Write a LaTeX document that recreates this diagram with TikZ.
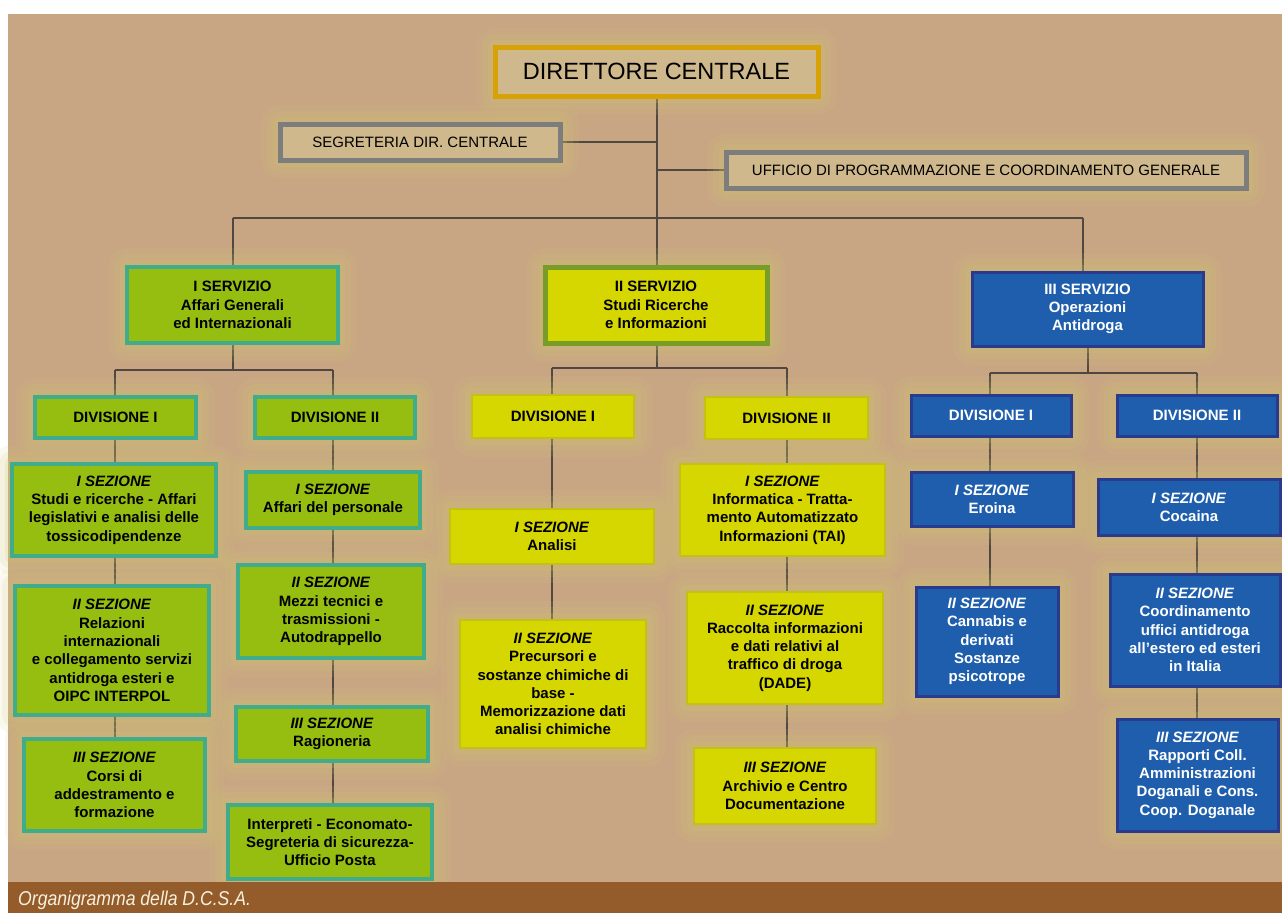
\documentclass[tikz,border=0pt]{standalone}
\usepackage{fontspec}
\setmainfont{Liberation Sans}
\usetikzlibrary{calc}
\definecolor{bgc}{RGB}{200,166,132}
\definecolor{glowc}{RGB}{208,200,110}
\definecolor{wirec}{RGB}{80,72,64}
\definecolor{gfill}{RGB}{150,190,16}
\definecolor{gborder}{RGB}{64,172,140}
\definecolor{yfill}{RGB}{214,214,0}
\definecolor{yborder}{RGB}{196,192,20}
\definecolor{oborder}{RGB}{120,156,40}
\definecolor{bfill}{RGB}{30,94,172}
\definecolor{bborder}{RGB}{42,58,140}
\definecolor{grayb}{RGB}{125,125,125}
\definecolor{tanfill}{RGB}{206,184,140}
\definecolor{goldb}{RGB}{214,162,6}
\definecolor{brownc}{RGB}{148,92,42}
\definecolor{captc}{RGB}{248,240,222}
\pgfdeclarelayer{back}
\pgfdeclarelayer{wires}
\pgfsetlayers{back,wires,main}
\tikzset{
  glow/.style={preaction={draw=glowc, line width=38pt, opacity=.10, line join=round},
               preaction={draw=glowc, line width=26pt, opacity=.13, line join=round},
               preaction={draw=glowc, line width=14pt, opacity=.18, line join=round}},
  base/.style={rectangle, align=center, inner sep=2pt, glow,
               font=\bfseries\fontsize{15}{18.3}\selectfont},
  gbox/.style={base, fill=gfill, draw=gborder, line width=4pt},
  ybox/.style={base, fill=yfill, draw=yborder, line width=2.5pt},
  ysrv/.style={base, fill=yfill, draw=oborder, line width=5pt},
  bbox/.style={base, fill=bfill, draw=bborder, line width=3pt, text=white},
  topbox/.style={rectangle, align=center, glow, fill=tanfill, draw=grayb, line width=5pt,
                 font=\fontsize{15}{18}\selectfont},
  dirbox/.style={rectangle, align=center, glow, fill=tanfill, draw=goldb, line width=5pt,
                 font=\fontsize{23.5}{27}\selectfont},
  wire/.style={draw=wirec, line width=1.2pt}
}
\begin{document}
\begin{tikzpicture}[x=1pt,y=-1pt]
\useasboundingbox (0,0) rectangle (1282,913);
\begin{pgfonlayer}{back}
\fill[white] (0,0) rectangle (1282,913);
\fill[bgc] (8,14) rectangle (1282,882);
\end{pgfonlayer}

% top level
\node[dirbox, minimum width=323pt, minimum height=49pt] (dir) at (656.5,71.5) {DIRETTORE CENTRALE};
\node[topbox, minimum width=280pt, minimum height=36pt] (seg) at (420,142) {SEGRETERIA DIR. CENTRALE};
\node[topbox, minimum width=520pt, minimum height=36pt] (uff) at (986,170) {UFFICIO DI PROGRAMMAZIONE E COORDINAMENTO GENERALE};

% servizi
\node[gbox, minimum width=211pt, minimum height=76pt] (s1) at (232.5,305) {I SERVIZIO\\Affari Generali\\ed Internazionali};
\node[ysrv, minimum width=222pt, minimum height=76pt] (s2) at (656,305) {II SERVIZIO\\Studi Ricerche\\e Informazioni};
\node[bbox, minimum width=231pt, minimum height=74pt] (s3) at (1087.5,309) {III SERVIZIO\\Operazioni\\Antidroga};

% I servizio
\node[gbox, minimum width=161pt, minimum height=41pt] (g1d1) at (115.5,417.5) {DIVISIONE I};
\node[gbox, minimum width=160pt, minimum height=41pt] (g1d2) at (335,417.5) {DIVISIONE II};
\node[gbox, minimum width=204pt, minimum height=92pt] (g1s1) at (114,510) {\textit{I SEZIONE}\\Studi e ricerche - Affari\\legislativi e analisi delle\\tossicodipendenze};
\node[gbox, minimum width=194pt, minimum height=129pt] (g1s2) at (112,650.5) {\textit{II SEZIONE}\\Relazioni\\internazionali\\e collegamento servizi\\antidroga esteri e\\OIPC INTERPOL};
\node[gbox, minimum width=181pt, minimum height=92pt] (g1s3) at (114.5,785) {\textit{III SEZIONE}\\Corsi di\\addestramento e\\formazione};
\node[gbox, minimum width=174pt, minimum height=56pt] (g2s1) at (333,500) {\textit{I SEZIONE}\\Affari del personale};
\node[gbox, minimum width=186pt, minimum height=93pt] (g2s2) at (331,611.5) {\textit{II SEZIONE}\\Mezzi tecnici e\\trasmissioni -\\Autodrappello};
\node[gbox, minimum width=192pt, minimum height=54pt] (g2s3) at (332,734) {\textit{III SEZIONE}\\Ragioneria};
\node[gbox, minimum width=204pt, minimum height=74pt] (g2s4) at (330,842) {Interpreti - Economato-\\Segreteria di sicurezza-\\Ufficio Posta};

% II servizio
\node[ybox, minimum width=162pt, minimum height=43pt] (y1d1) at (553,416.5) {DIVISIONE I};
\node[ybox, minimum width=163pt, minimum height=42pt] (y1d2) at (786.5,418) {DIVISIONE II};
\node[ybox, minimum width=204pt, minimum height=55pt] (y1s1) at (552,536.5) {\textit{I SEZIONE}\\Analisi};
\node[ybox, minimum width=186pt, minimum height=128pt] (y1s2) at (553,684) {\textit{II SEZIONE}\\Precursori e\\sostanze chimiche di\\base -\\Memorizzazione dati\\analisi chimiche};
\node[ybox, minimum width=205pt, minimum height=92pt] (y2s1) at (782.5,510) {\textit{I SEZIONE}\\Informatica - Tratta-\\mento Automatizzato\\Informazioni (TAI)};
\node[ybox, minimum width=196pt, minimum height=112pt] (y2s2) at (785,648) {\textit{II SEZIONE}\\Raccolta informazioni\\e dati relativi al\\traffico di droga\\(DADE)};
\node[ybox, minimum width=182pt, minimum height=76pt] (y2s3) at (785,786) {\textit{III SEZIONE}\\Archivio e Centro\\Documentazione};

% III servizio
\node[bbox, minimum width=160pt, minimum height=41pt] (b1d1) at (991,415.5) {DIVISIONE I};
\node[bbox, minimum width=160pt, minimum height=41pt] (b1d2) at (1197,415.5) {DIVISIONE II};
\node[bbox, minimum width=162pt, minimum height=54pt] (b1s1) at (992,499) {\textit{I SEZIONE}\\Eroina};
\node[bbox, minimum width=142pt, minimum height=109pt] (b1s2) at (987,641.5) {\textit{II SEZIONE}\\Cannabis e\\derivati\\Sostanze\\psicotrope};
\node[bbox, minimum width=182pt, minimum height=56pt] (b2s1) at (1189,507) {\textit{I SEZIONE}\\Cocaina};
\node[bbox, minimum width=170pt, minimum height=112pt] (b2s2) at (1195,630) {\textit{II SEZIONE}\\Coordinamento\\uffici antidroga\\all'estero ed esteri\\in Italia};
\node[bbox, minimum width=161pt, minimum height=112pt] (b2s3) at (1197.5,775) {\textit{III SEZIONE}\\Rapporti Coll.\\Amministrazioni\\Doganali e Cons.\\Coop. Doganale};

% junction coordinates
\coordinate (j0) at (657,218);
\coordinate (jL) at (233,218);
\coordinate (jR) at (1083,218);
\coordinate (k1) at (233,370);
\coordinate (k2) at (657,368);
\coordinate (k3) at (1088,373);
\coordinate (c11) at (115,0);
\coordinate (c12) at (333,0);
\coordinate (c21) at (552,0);
\coordinate (c22) at (787,0);
\coordinate (c31) at (990,0);
\coordinate (c32) at (1197,0);

\begin{pgfonlayer}{wires}
\draw[wire] (dir.south -| j0) -- (j0);
\draw[wire] (seg.east) -- (seg.east -| j0);
\draw[wire] (uff.west) -- (uff.west -| j0);
\draw[wire] (jL) -- (jR);
\draw[wire] (jL) -- (jL |- s1.north);
\draw[wire] (j0) -- (j0 |- s2.north);
\draw[wire] (jR) -- (jR |- s3.north);
% I servizio
\draw[wire] (s1.south -| k1) -- (k1);
\draw[wire] (c11 |- k1) -- (c12 |- k1);
\draw[wire] (c11 |- k1) -- (c11 |- g1d1.north);
\draw[wire] (c12 |- k1) -- (c12 |- g1d2.north);
\draw[wire] (c11 |- g1d1.south) -- (c11 |- g1s3.north);
\draw[wire] (c12 |- g1d2.south) -- (c12 |- g2s4.north);
% II servizio
\draw[wire] (s2.south -| k2) -- (k2);
\draw[wire] (c21 |- k2) -- (c22 |- k2);
\draw[wire] (c21 |- k2) -- (c21 |- y1d1.north);
\draw[wire] (c22 |- k2) -- (c22 |- y1d2.north);
\draw[wire] (c21 |- y1d1.south) -- (c21 |- y1s2.north);
\draw[wire] (c22 |- y1d2.south) -- (c22 |- y2s3.north);
% III servizio
\draw[wire] (s3.south -| k3) -- (k3);
\draw[wire] (c31 |- k3) -- (c32 |- k3);
\draw[wire] (c31 |- k3) -- (c31 |- b1d1.north);
\draw[wire] (c32 |- k3) -- (c32 |- b1d2.north);
\draw[wire] (c31 |- b1d1.south) -- (c31 |- b1s2.north);
\draw[wire] (c32 |- b1d2.south) -- (c32 |- b2s3.north);
\end{pgfonlayer}

% caption band
\fill[brownc] (8,882) rectangle (1282,913);
\node[anchor=base west, inner sep=0pt, text=captc, font=\itshape\fontsize{20}{22}\selectfont] (cap) at (18,905) {\scalebox{0.88}[1]{Organigramma della D.C.S.A.}};
\end{tikzpicture}
\end{document}
